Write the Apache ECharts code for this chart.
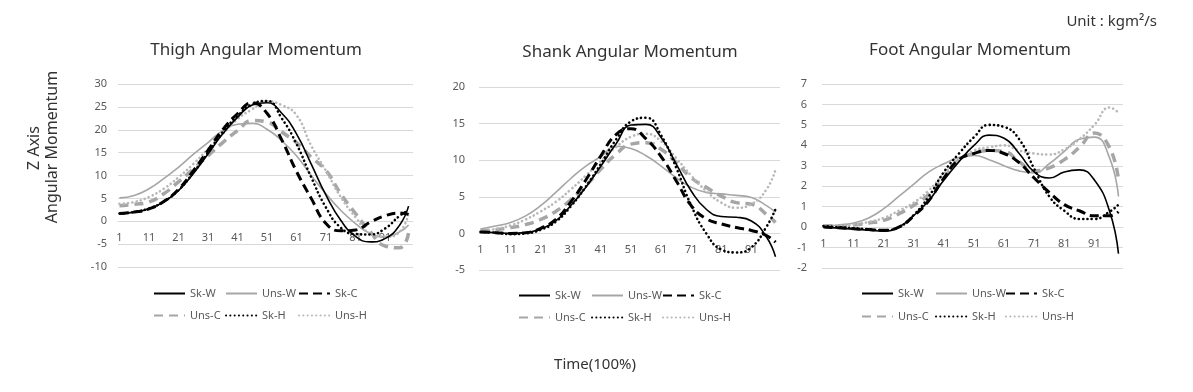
<!DOCTYPE html>
<html><head><meta charset="utf-8">
<script src="https://cdn.jsdelivr.net/npm/echarts@6/dist/echarts.min.js"></script>
<style>html,body{margin:0;padding:0;background:#fff}#c{width:1193px;height:392px}</style>
</head><body><div id="c"></div>
<script>
// Category axis: percent of gait cycle 1..100
const categories = Array.from({length: 100}, (_, i) => String(i + 1));
// Sampled positions along the cycle where values were read
const samplePoints = [1, 6, 11, 16, 21, 26, 31, 36, 41, 46, 51, 56, 61, 66, 71, 76, 81, 86, 91, 96, 99];
const seriesNames = ['Sk-W', 'Uns-W', 'Sk-C', 'Uns-C', 'Sk-H', 'Uns-H'];
const chartTitles = ['Thigh Angular Momentum', 'Shank Angular Momentum', 'Foot Angular Momentum'];

// Thigh
const thighSkW  = [1.6, 2.0, 2.75, 4.2, 6.7, 10.4, 14.7, 19.1, 22.7, 25.4, 25.9, 23.6, 19.1, 12.5, 5.7, 0.2, -3.3, -4.5, -3.8, -0.8, 3.3];
const thighUnsW = [5.1, 5.65, 7.1, 9.3, 11.8, 14.6, 17.2, 19.8, 21.2, 21.4, 20.1, 17.6, 14.3, 10.0, 6.0, 2.4, -0.5, -2.7, -3.4, -2.3, -0.8];
const thighSkC  = [1.7, 2.0, 2.7, 4.3, 7.0, 11.0, 15.5, 20.0, 23.5, 25.9, 23.6, 17.8, 10.9, 5.0, -0.5, -2.1, -1.9, -0.2, 1.2, 1.8, 1.5];
const thighUnsC = [3.4, 3.7, 4.2, 6.0, 8.6, 11.4, 14.3, 17.2, 19.8, 22.0, 21.7, 19.5, 17.2, 14.0, 11.1, 6.0, 1.7, -2.3, -5.4, -5.8, -2.6];
const thighSkH  = [1.7, 2.0, 2.8, 4.3, 6.8, 10.6, 15.0, 19.5, 23.0, 25.6, 26.3, 22.5, 16.9, 9.6, 3.0, -1.4, -2.8, -2.9, -1.6, 1.2, 2.4];
const thighUnsH = [3.8, 4.2, 5.3, 7.1, 9.6, 12.5, 15.8, 19.1, 22.3, 24.5, 26.2, 25.4, 23.2, 16.5, 11.0, 5.3, 0.9, -2.7, -3.4, -2.3, 1.7];

// Shank
const shankSkW  = [0.2, 0.1, 0.0, 0.1, 0.6, 1.7, 3.8, 6.3, 9.2, 12.2, 14.8, 14.9, 13.1, 9.5, 5.8, 3.3, 2.3, 2.2, 1.7, -0.5, -3.2];
const shankUnsW = [0.6, 1.0, 1.5, 2.4, 3.8, 5.6, 7.5, 9.2, 10.5, 11.9, 11.6, 10.6, 9.2, 7.6, 6.3, 5.6, 5.4, 5.2, 4.9, 3.8, 2.9];
const shankSkC  = [0.2, 0.1, 0.0, 0.1, 0.7, 1.9, 4.3, 7.3, 10.6, 13.5, 14.3, 12.9, 10.5, 7.2, 3.8, 2.0, 1.3, 0.8, 0.4, -0.3, -1.2];
const shankUnsC = [0.4, 0.5, 0.8, 1.2, 1.9, 3.0, 4.6, 6.5, 8.8, 10.8, 12.2, 12.4, 11.5, 9.7, 7.6, 6.3, 5.1, 4.2, 4.0, 2.6, 1.5];
const shankSkH  = [0.2, 0.1, -0.1, 0.0, 0.5, 1.6, 3.7, 6.4, 9.5, 12.8, 15.3, 15.8, 13.4, 9.0, 3.8, 0.0, -2.2, -2.6, -1.9, 0.9, 3.3];
const shankUnsH = [0.3, 0.6, 1.1, 1.9, 3.0, 4.3, 6.0, 7.9, 9.9, 11.8, 13.2, 13.6, 12.6, 10.3, 7.9, 5.8, 4.2, 3.5, 4.0, 6.0, 8.7];

// Foot
const footSkW  = [0.0, -0.05, -0.1, -0.15, -0.2, 0.0, 0.57, 1.3, 2.3, 3.2, 4.0, 4.5, 4.35, 3.6, 2.7, 2.4, 2.7, 2.8, 2.3, 0.8, -1.3];
const footUnsW = [0.05, 0.1, 0.2, 0.45, 0.9, 1.5, 2.1, 2.7, 3.1, 3.4, 3.5, 3.3, 3.0, 2.75, 2.65, 3.1, 3.7, 4.3, 4.4, 3.4, 1.5];
const footSkC  = [0.0, -0.03, -0.08, -0.12, -0.15, 0.0, 0.55, 1.3, 2.4, 3.3, 3.6, 3.75, 3.6, 3.15, 2.4, 1.7, 1.1, 0.8, 0.55, 0.55, 0.75];
const footUnsC = [0.05, 0.07, 0.1, 0.2, 0.33, 0.65, 1.07, 1.6, 2.4, 3.3, 3.6, 3.75, 3.7, 3.2, 2.75, 2.9, 3.3, 3.9, 4.6, 3.9, 2.3];
const footSkH  = [0.05, 0.0, -0.05, -0.1, -0.15, 0.0, 0.6, 1.5, 2.7, 3.6, 4.4, 5.0, 4.9, 4.3, 2.85, 1.5, 0.8, 0.4, 0.4, 0.75, 1.1];
const footUnsH = [0.05, 0.07, 0.12, 0.25, 0.45, 0.8, 1.2, 1.8, 2.6, 3.3, 3.75, 3.9, 4.0, 3.75, 3.6, 3.55, 3.8, 4.3, 5.0, 5.85, 5.6];

const chartData = [
  [thighSkW, thighUnsW, thighSkC, thighUnsC, thighSkH, thighUnsH],
  [shankSkW, shankUnsW, shankSkC, shankUnsC, shankSkH, shankUnsH],
  [footSkW, footUnsW, footSkC, footUnsC, footSkH, footUnsH]
];
const yRanges = [[-10, 30, 5], [-5, 20, 5], [-2, 7, 1]];

const lineStyles = {
  'Sk-W':  {color: '#000000', width: 1.6, type: 'solid'},
  'Uns-W': {color: '#a6a6a6', width: 1.6, type: 'solid'},
  'Sk-C':  {color: '#000000', width: 3, type: [9, 5]},
  'Uns-C': {color: '#a6a6a6', width: 3.5, type: [9, 6]},
  'Sk-H':  {color: '#000000', width: 2.6, type: [0.1, 4.2], cap: 'round'},
  'Uns-H': {color: '#b8b8b8', width: 2.6, type: [0.1, 4.2], cap: 'round'}
};

const grids = [
  {left: 118, top: 84, width: 295, height: 183},
  {left: 479, top: 87, width: 301, height: 183},
  {left: 822, top: 84, width: 301, height: 184}
];
const labelMargins = [11, 14, 15];

const font = '"Noto Sans", sans-serif';
const xAxes = [], yAxes = [], series = [];
for (let g = 0; g < 3; g++) {
  const yr = yRanges[g];
  // place the category axis at the zero line
  const zeroOffset = -grids[g].height * (0 - yr[0]) / (yr[1] - yr[0]);
  xAxes.push({
    type: 'category', gridIndex: g, data: categories, boundaryGap: true,
    position: 'bottom', offset: zeroOffset,
    axisLine: {show: true, onZero: false, lineStyle: {color: '#d9d9d9'}},
    axisTick: {show: false},
    axisLabel: {interval: 9, color: '#595959', fontSize: 11, margin: 11, fontFamily: font},
    splitLine: {show: false}
  });
  yAxes.push({
    type: 'value', gridIndex: g, min: yr[0], max: yr[1], interval: yr[2],
    axisLine: {show: false}, axisTick: {show: false},
    axisLabel: {color: '#595959', fontSize: 11, margin: labelMargins[g], fontFamily: font},
    splitLine: {lineStyle: {color: '#d9d9d9', width: 1}}
  });
  seriesNames.forEach((name, k) => {
    const ls = lineStyles[name];
    series.push({
      type: 'line', name: name, xAxisIndex: g, yAxisIndex: g,
      data: samplePoints.map((c, i) => [String(c), chartData[g][k][i]]),
      smooth: 0.5, symbol: 'none', showSymbol: false,
      color: ls.color,
      lineStyle: Object.assign({}, ls),
      z: ls.color === '#000000' ? 4 : 3,
      animation: false
    });
  });
}

// legend positions per chart: [left of col1, col2, col3], row centers
const legendCols = [[153, 225, 298], [518, 591, 662], [861, 935, 1005]];
const legendRows = [[295, 317], [297, 319], [295, 318]];
const legends = [];
for (let g = 0; g < 3; g++) {
  seriesNames.forEach((name, k) => {
    const row = Math.floor(k / 3), col = k % 3;
    legends.push({
      data: [name], left: legendCols[g][col], top: legendRows[g][row] - 7,
      padding: 0, itemGap: 0, itemWidth: 31, itemHeight: 12,
      itemStyle: {opacity: 0},
      textStyle: {fontSize: 11, color: '#595959', fontFamily: font},
      selectedMode: false
    });
  });
}

const graphics = [
  {type: 'text', x: 1157, y: 22, style: {text: 'Unit : kgm²/s', font: '15px ' + font, fill: '#333', align: 'right', verticalAlign: 'middle'}},
  {type: 'text', x: 256, y: 50, style: {text: chartTitles[0], font: '17px ' + font, fill: '#333', align: 'center', verticalAlign: 'middle'}},
  {type: 'text', x: 630, y: 52, style: {text: chartTitles[1], font: '17px ' + font, fill: '#333', align: 'center', verticalAlign: 'middle'}},
  {type: 'text', x: 970, y: 50, style: {text: chartTitles[2], font: '17px ' + font, fill: '#333', align: 'center', verticalAlign: 'middle'}},
  {type: 'text', x: 34, y: 148, rotation: Math.PI / 2, style: {text: 'Z Axis', font: '16px ' + font, fill: '#333', align: 'center', verticalAlign: 'middle'}},
  {type: 'text', x: 52, y: 147, rotation: Math.PI / 2, style: {text: 'Angular Momentum', font: '16px ' + font, fill: '#333', align: 'center', verticalAlign: 'middle'}},
  {type: 'text', x: 595, y: 365, style: {text: 'Time(100%)', font: '15px ' + font, fill: '#333', align: 'center', verticalAlign: 'middle'}}
];

const chart = echarts.init(document.getElementById('c'), null, {renderer: 'canvas'});
chart.setOption({
  backgroundColor: '#ffffff',
  animation: false,
  grid: grids,
  xAxis: xAxes,
  yAxis: yAxes,
  legend: legends,
  series: series,
  graphic: graphics
});
</script>
</body></html>
